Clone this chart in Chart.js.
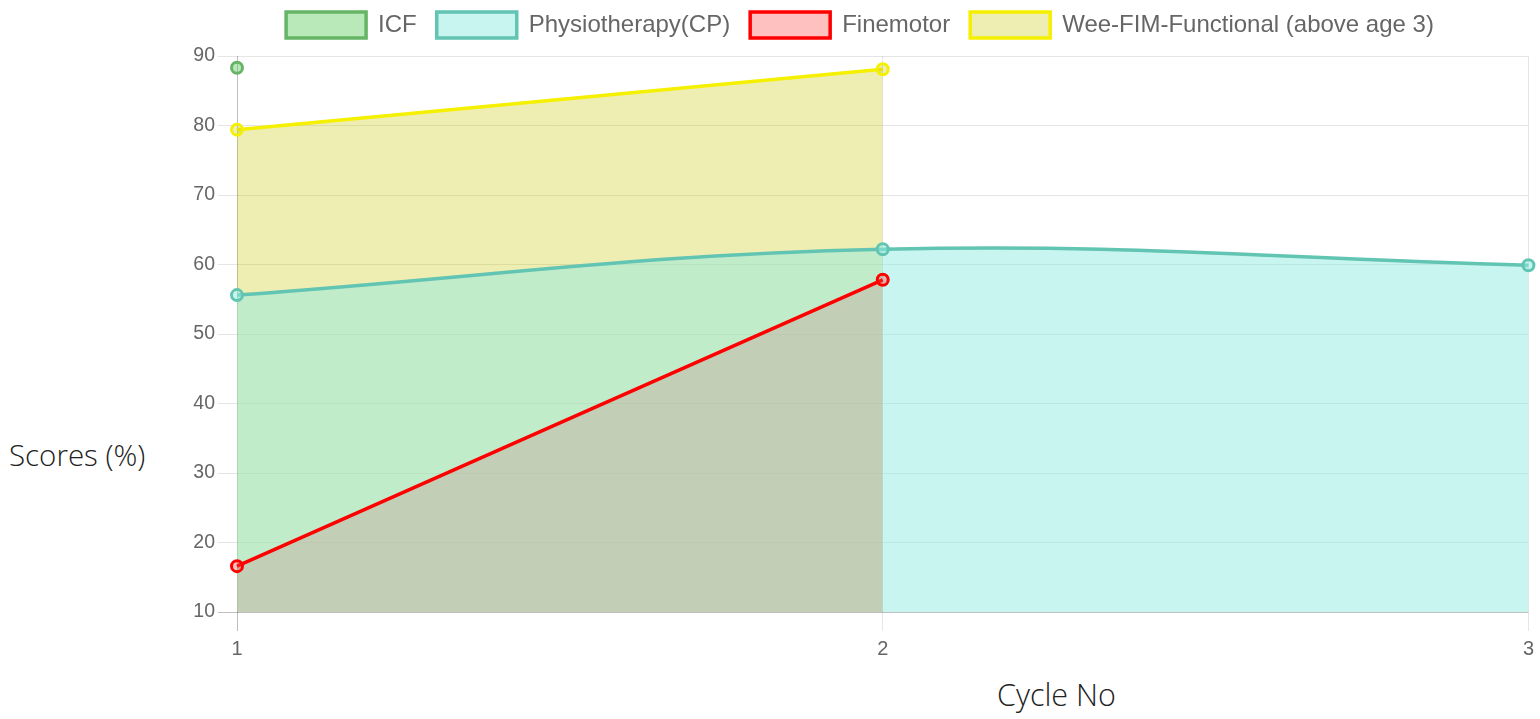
<!DOCTYPE html>
<html>
<head>
<meta charset="utf-8">
<script src="https://cdn.jsdelivr.net/npm/chart.js@4.4.1/dist/chart.umd.min.js"></script>
<style>
  body { margin: 0; background: #fff; width: 1540px; height: 719px; position: relative; overflow: hidden; }
  #wrap { position: absolute; left: 170px; top: 0; width: 1370px; height: 670px; }
  .axis-title { position: absolute; font-family: "Open Sans", sans-serif; font-weight: 300; color: #222; white-space: nowrap; }
</style>
</head>
<body>
<div class="axis-title" style="left:9px; top:434px; font-size:29.5px;">Scores (%)</div>
<div class="axis-title" style="left:997px; top:673px; font-size:30.5px;">Cycle No</div>
<div id="wrap"><canvas id="myChart"></canvas></div>
<script>
// cycle numbers on x axis
var cycles = ['1', '2', '3'];
// scores per dataset (null = no score for that cycle)
var icf = [88.3, null, null];
var physio = [55.6, 62.2, 59.9];
var finemotor = [16.6, 57.8, null];
var weeFim = [79.4, 88.1, null];

var gridColor = function (ctx) {
  return ctx.index === 0 ? 'rgba(0,0,0,0.25)' : 'rgba(0,0,0,0.1)';
};

// push the legend up a bit without moving the plot area
const legendGap = {
  id: 'legendGap',
  beforeLayout(chart) {
    const lg = chart.legend;
    if (lg && !lg._gapPatched) {
      const fit = lg.fit;
      lg.fit = function () { fit.call(this); this.height += 8; };
      lg._gapPatched = true;
    }
  }
};

let myChart = new Chart('myChart', {
  type: 'line',
  data: {
    labels: cycles,
    datasets: [
      {
        label: 'ICF',
        data: icf,
        borderColor: 'rgb(102,180,102)',
        backgroundColor: 'rgba(80,200,80,0.4)',
        fill: 'start'
      }, {
        label: 'Physiotherapy(CP)',
        data: physio,
        borderColor: 'rgb(98,196,178)',
        backgroundColor: 'rgba(145,235,225,0.5)',
        fill: 'start'
      }, {
        label: 'Finemotor',
        data: finemotor,
        borderColor: 'rgb(255,0,0)',
        backgroundColor: 'rgba(255,60,60,0.32)',
        fill: 'start'
      }, {
        label: 'Wee-FIM-Functional (above age 3)',
        data: weeFim,
        borderColor: 'rgb(245,240,0)',
        backgroundColor: 'rgba(200,195,0,0.3)',
        fill: 'start'
      }
    ]
  },
  plugins: [legendGap],
  options: {
    responsive: true,
    maintainAspectRatio: false,
    animation: false,
    layout: { padding: { top: -8, right: 10, bottom: 0, left: 20 } },
    elements: {
      line: { tension: 0.4, borderWidth: 3.5 },
      point: { radius: 5.5, borderWidth: 3, hoverRadius: 6 }
    },
    plugins: {
      filler: { drawTime: 'beforeDatasetsDraw' },
      tooltip: { enabled: false },
      legend: {
        position: 'top',
        labels: {
          font: { family: 'Liberation Sans', size: 24 },
          color: '#666',
          boxWidth: 80,
          boxHeight: 26,
          padding: 20
        }
      }
    },
    scales: {
      x: {
        grid: { color: gridColor, tickLength: 19 },
        border: { display: false },
        ticks: { font: { family: 'Liberation Sans', size: 20 }, color: '#666', padding: 6 },
        afterFit: function (s) { s.height = 58; }
      },
      y: {
        min: 10,
        max: 90,
        grid: { color: gridColor, tickLength: 19 },
        border: { display: false },
        ticks: { stepSize: 10, font: { family: 'Liberation Sans', size: 19.5 }, color: '#666', padding: 3 },
        afterFit: function (s) { s.width = 47; }
      }
    }
  }
});
</script>
</body>
</html>
